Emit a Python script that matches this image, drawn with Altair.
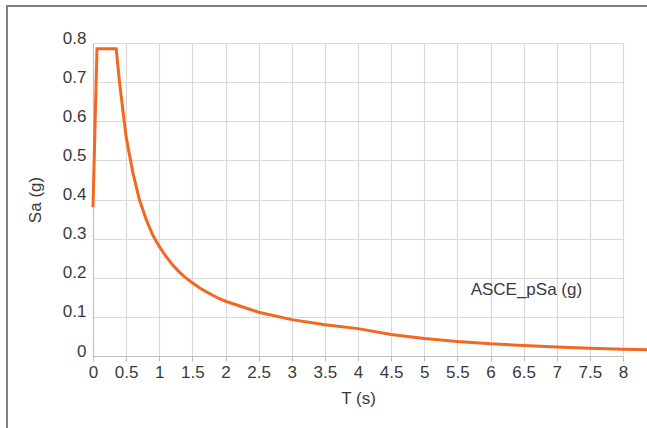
import altair as alt
import pandas as pd

# Periods (s) and spectral accelerations (g)
T_s = [0, 0.06, 0.35, 0.4, 0.5, 0.6, 0.7, 0.8, 0.9, 1.0, 1.1, 1.2, 1.3, 1.4, 1.5,
       1.6, 1.7, 1.8, 1.9, 2.0, 2.5, 3.0, 3.5, 4.0, 4.5, 5.0, 5.5, 6.0, 6.5, 7.0,
       7.5, 8.0, 8.4]
Sa_g = [0.38, 0.785, 0.785, 0.70, 0.56, 0.47, 0.40, 0.35, 0.31, 0.28, 0.255, 0.233,
        0.215, 0.20, 0.187, 0.175, 0.165, 0.156, 0.147, 0.14, 0.112, 0.093, 0.08,
        0.07, 0.055, 0.045, 0.037, 0.031, 0.027, 0.023, 0.020, 0.0175, 0.016]

x_ticks = [0, 0.5, 1, 1.5, 2, 2.5, 3, 3.5, 4, 4.5, 5, 5.5, 6, 6.5, 7, 7.5, 8]
y_ticks = [0, 0.1, 0.2, 0.3, 0.4, 0.5, 0.6, 0.7, 0.8]

series_name = ["ASCE_pSa (g)"]
label_T = [5.7]
label_Sa = [0.169]

FONT = "Liberation Sans"
TXT = "#3a3a3a"
ORANGE = "#F26722"
FS = 17

df = pd.DataFrame({"T": T_s, "Sa": Sa_g})
lab = pd.DataFrame({"T": label_T, "Sa": label_Sa, "name": series_name})

xscale = alt.Scale(domain=[0, 8], nice=False, zero=False)
yscale = alt.Scale(domain=[0, 0.8], nice=False)

common = dict(labelFont=FONT, titleFont=FONT, labelFontSize=FS, titleFontSize=FS,
              labelColor=TXT, titleColor=TXT, titleFontWeight="normal",
              labelOverlap=False, labelSeparation=0, format="~g",
              gridColor="#d9d9d9", gridWidth=1.2, domainColor="#bfbfbf")

x_axis = alt.Axis(values=x_ticks, ticks=True, tickSize=5, tickColor="#bfbfbf",
                  labelPadding=3, titlePadding=10, labelFlush=False, **common)
y_axis = alt.Axis(values=y_ticks, ticks=False, labelPadding=7, titlePadding=18,
                  labelBaseline="alphabetic", labelOffset=0, **common)

line = alt.Chart(df).mark_line(color=ORANGE, strokeWidth=3, clip=False).encode(
    x=alt.X("T:Q", scale=xscale, title="T (s)", axis=x_axis),
    y=alt.Y("Sa:Q", scale=yscale, title="Sa (g)", axis=y_axis),
)

text = alt.Chart(lab).mark_text(align="left", baseline="middle", font=FONT,
                                fontSize=FS, color=TXT).encode(
    x=alt.X("T:Q", scale=xscale, title="T (s)", axis=x_axis),
    y=alt.Y("Sa:Q", scale=yscale, title="Sa (g)", axis=y_axis),
    text="name:N")

frame_v = alt.Chart(lab).mark_rule(color="#808080", strokeWidth=2).encode(
    x=alt.value(-86), y=alt.value(-37), y2=alt.value(390))
frame_h = alt.Chart(lab).mark_rule(color="#808080", strokeWidth=2).encode(
    x=alt.value(-87), x2=alt.value(560), y=alt.value(-37))

chart = alt.layer(line, text, frame_v, frame_h).properties(
    width=530, height=313,
    autosize=alt.AutoSizeParams(type="none"),
    padding={"left": 93, "top": 43, "right": 24, "bottom": 72},
).configure_view(stroke=None)

chart.save("out.html", embed_options={"renderer": "svg", "actions": False})
